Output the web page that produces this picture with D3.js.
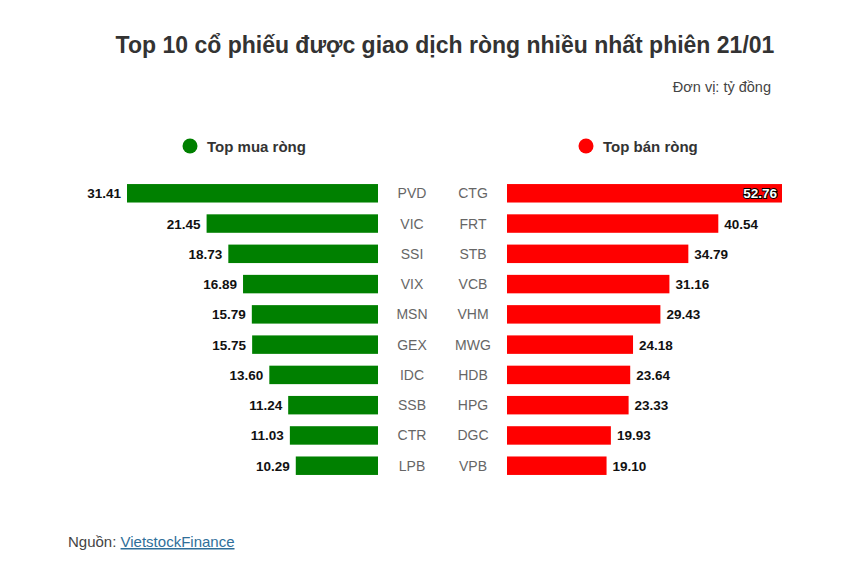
<!DOCTYPE html>
<html>
<head>
<meta charset="utf-8">
<style>
  body { margin: 0; background: #fff; font-family: "Liberation Sans", Arial, sans-serif; }
  svg { display: block; }
</style>
</head>
<body>
<svg width="865" height="570"></svg>
<script src="https://d3js.org/d3.v7.min.js"></script>
<script>
  // net buying (left side)
  let buyTickers = ["PVD", "VIC", "SSI", "VIX", "MSN", "GEX", "IDC", "SSB", "CTR", "LPB"];
  let buyValues = [31.41, 21.45, 18.73, 16.89, 15.79, 15.75, 13.60, 11.24, 11.03, 10.29];

  // net selling (right side)
  let sellTickers = ["CTG", "FRT", "STB", "VCB", "VHM", "MWG", "HDB", "HPG", "DGC", "VPB"];
  let sellValues = [52.76, 40.54, 34.79, 31.16, 29.43, 24.18, 23.64, 23.33, 19.93, 19.10];

  let svg = d3.select("svg");

  let title = "Top 10 cổ phiếu được giao dịch ròng nhiều nhất phiên 21/01";

  svg.append("text")
    .attr("x", 445).attr("y", 53)
    .attr("text-anchor", "middle")
    .style("font-size", "23px").style("font-weight", "bold").style("fill", "#333")
    .text(title);

  svg.append("text")
    .attr("x", 771).attr("y", 92)
    .attr("text-anchor", "end")
    .style("font-size", "14.5px").style("fill", "#444")
    .text("Đơn vị: tỷ đồng");

  // legend
  let legend = [
    { label: "Top mua ròng", color: "#008000", x: 190 },
    { label: "Top bán ròng", color: "#ff0000", x: 586 }
  ];
  let lg = svg.append("g").selectAll("g").data(legend).join("g")
    .attr("transform", d => `translate(${d.x},146)`);
  lg.append("circle").attr("r", 7.5).style("fill", d => d.color);
  lg.append("text").attr("x", 17).attr("y", 5.5)
    .style("font-size", "15px").style("font-weight", "bold").style("fill", "#333")
    .text(d => d.label);

  let y = d3.scaleBand()
    .domain(d3.range(10))
    .range([178, 481])
    .paddingInner(0.39).paddingOuter(0.2);

  // left bars grow leftward from x=378
  let xL = d3.scaleLinear().domain([0, 31.41]).range([378, 127]);
  // right bars grow rightward from x=507
  let xR = d3.scaleLinear().domain([0, 52.76]).range([507, 782]);

  let buy = buyValues.map((v, i) => ({ v, t: buyTickers[i], i }));
  let sell = sellValues.map((v, i) => ({ v, t: sellTickers[i], i }));

  svg.append("g").selectAll("rect").data(buy).join("rect")
    .attr("x", d => xL(d.v)).attr("y", d => y(d.i))
    .attr("width", d => xL(0) - xL(d.v)).attr("height", y.bandwidth())
    .style("fill", "#008000");

  svg.append("g").selectAll("text").data(buy).join("text")
    .attr("x", d => xL(d.v) - 6).attr("y", d => y(d.i) + y.bandwidth() / 2 + 5)
    .attr("text-anchor", "end")
    .style("font-size", "13.5px").style("font-weight", "bold").style("fill", "#111")
    .text(d => d.v.toFixed(2));

  svg.append("g").selectAll("text").data(buy).join("text")
    .attr("x", 412).attr("y", d => y(d.i) + y.bandwidth() / 2 + 5)
    .attr("text-anchor", "middle")
    .style("font-size", "14px").style("fill", "#666")
    .text(d => d.t);

  svg.append("g").selectAll("rect").data(sell).join("rect")
    .attr("x", xR(0)).attr("y", d => y(d.i))
    .attr("width", d => xR(d.v) - xR(0)).attr("height", y.bandwidth())
    .style("fill", "#ff0000");

  svg.append("g").selectAll("text").data(sell).join("text")
    .attr("x", 473).attr("y", d => y(d.i) + y.bandwidth() / 2 + 5)
    .attr("text-anchor", "middle")
    .style("font-size", "14px").style("fill", "#666")
    .text(d => d.t);

  // value labels: the largest goes inside its bar
  let maxSell = d3.max(sellValues);
  svg.append("g").selectAll("text").data(sell).join("text")
    .attr("x", d => d.v === maxSell ? xR(d.v) - 5 : xR(d.v) + 6)
    .attr("y", d => y(d.i) + y.bandwidth() / 2 + 5)
    .attr("text-anchor", d => d.v === maxSell ? "end" : "start")
    .style("font-size", "13.5px").style("font-weight", "bold")
    .style("fill", d => d.v === maxSell ? "#fff" : "#111")
    .style("stroke", d => d.v === maxSell ? "#000" : "none")
    .style("stroke-width", 2).style("paint-order", "stroke")
    .text(d => d.v.toFixed(2));

  // source
  let src = svg.append("text").attr("x", 68).attr("y", 547)
    .style("font-size", "15px").style("fill", "#444");
  src.append("tspan").text("Nguồn: ");
  src.append("tspan").style("fill", "#2f6f9a").style("text-decoration", "underline")
    .text("VietstockFinance");
</script>
</body>
</html>
